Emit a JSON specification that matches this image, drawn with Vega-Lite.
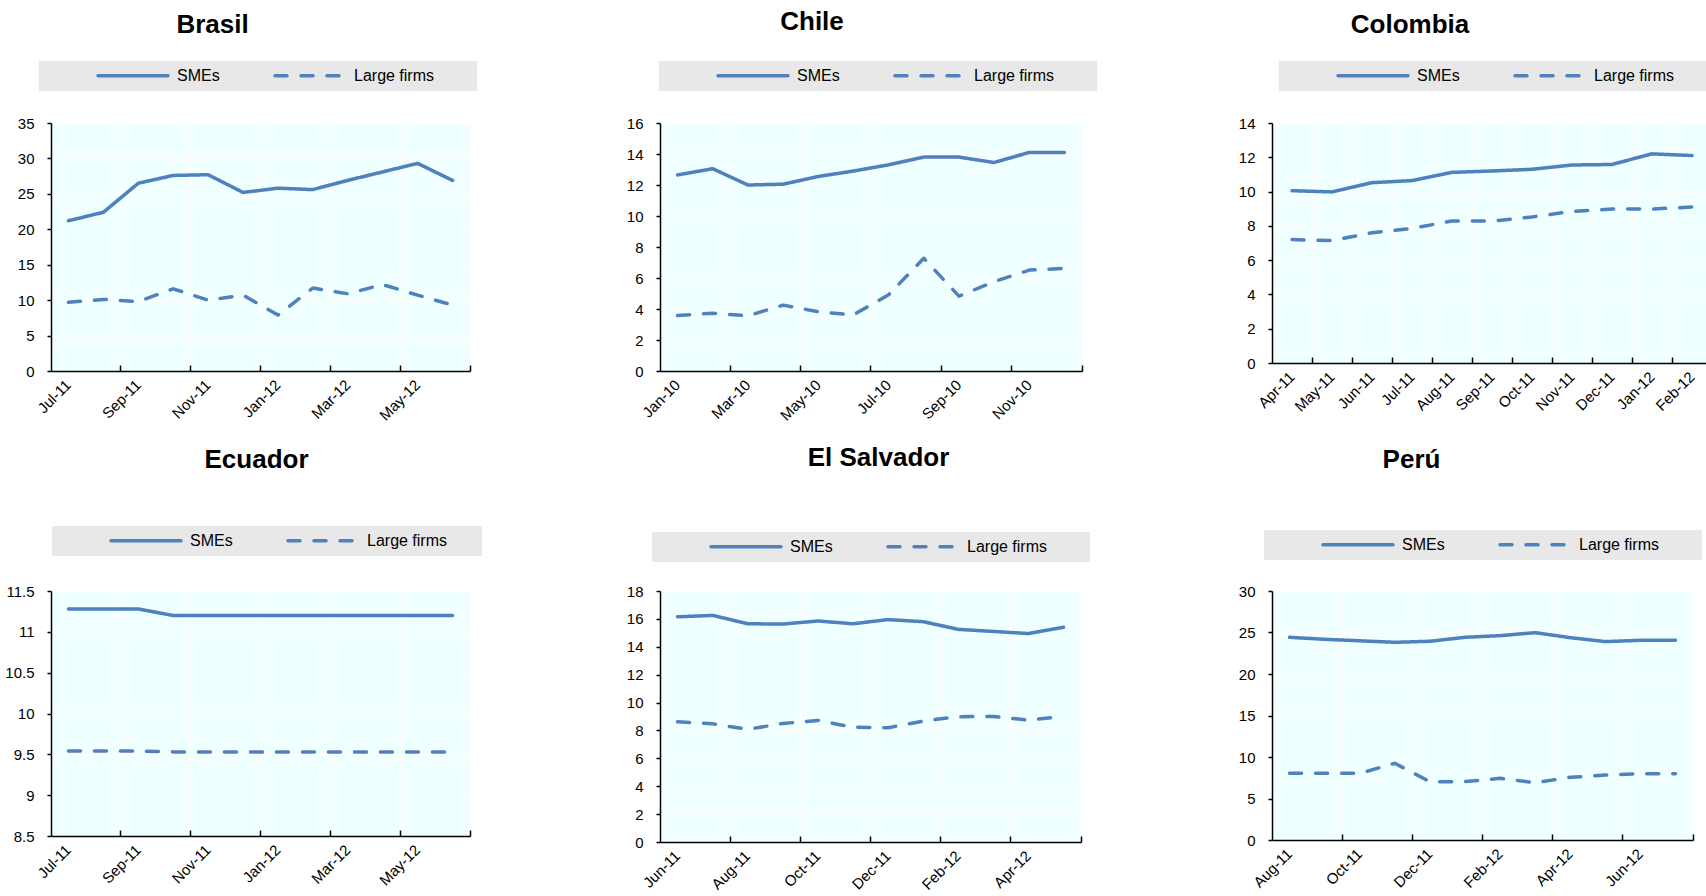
{
  "$schema": "https://vega.github.io/schema/vega-lite/v6.json",
  "autosize": {"type": "none"},
  "padding": {"left": 51, "top": 123, "right": 1655, "bottom": 773},
  "background": "white",
  "columns": 3,
  "spacing": {"row": 220, "column": 190},
  "bounds": "flush",
  "align": "none",
  "resolve": {"scale": {"strokeDash": "independent"}, "legend": {"strokeDash": "independent"}},
  "datasets": {
    "brasil": [
      {"m": "Jul-11", "s": "SMEs", "v": 21.2}, {"m": "Jul-11", "s": "Large firms", "v": 9.7},
      {"m": "Aug-11", "s": "SMEs", "v": 22.4}, {"m": "Aug-11", "s": "Large firms", "v": 10.1},
      {"m": "Sep-11", "s": "SMEs", "v": 26.5}, {"m": "Sep-11", "s": "Large firms", "v": 9.8},
      {"m": "Oct-11", "s": "SMEs", "v": 27.6}, {"m": "Oct-11", "s": "Large firms", "v": 11.6},
      {"m": "Nov-11", "s": "SMEs", "v": 27.7}, {"m": "Nov-11", "s": "Large firms", "v": 10.0},
      {"m": "Dec-11", "s": "SMEs", "v": 25.2}, {"m": "Dec-11", "s": "Large firms", "v": 10.7},
      {"m": "Jan-12", "s": "SMEs", "v": 25.8}, {"m": "Jan-12", "s": "Large firms", "v": 7.9},
      {"m": "Feb-12", "s": "SMEs", "v": 25.6}, {"m": "Feb-12", "s": "Large firms", "v": 11.7},
      {"m": "Mar-12", "s": "SMEs", "v": 26.9}, {"m": "Mar-12", "s": "Large firms", "v": 10.9},
      {"m": "Apr-12", "s": "SMEs", "v": 28.1}, {"m": "Apr-12", "s": "Large firms", "v": 12.2},
      {"m": "May-12", "s": "SMEs", "v": 29.3}, {"m": "May-12", "s": "Large firms", "v": 10.7},
      {"m": "Jun-12", "s": "SMEs", "v": 26.9}, {"m": "Jun-12", "s": "Large firms", "v": 9.3}
    ],
    "chile": [
      {"m": "Jan-10", "s": "SMEs", "v": 12.65}, {"m": "Jan-10", "s": "Large firms", "v": 3.58},
      {"m": "Feb-10", "s": "SMEs", "v": 13.05}, {"m": "Feb-10", "s": "Large firms", "v": 3.73},
      {"m": "Mar-10", "s": "SMEs", "v": 12.0}, {"m": "Mar-10", "s": "Large firms", "v": 3.56},
      {"m": "Apr-10", "s": "SMEs", "v": 12.05}, {"m": "Apr-10", "s": "Large firms", "v": 4.25},
      {"m": "May-10", "s": "SMEs", "v": 12.55}, {"m": "May-10", "s": "Large firms", "v": 3.82},
      {"m": "Jun-10", "s": "SMEs", "v": 12.9}, {"m": "Jun-10", "s": "Large firms", "v": 3.62},
      {"m": "Jul-10", "s": "SMEs", "v": 13.3}, {"m": "Jul-10", "s": "Large firms", "v": 4.92},
      {"m": "Aug-10", "s": "SMEs", "v": 13.8}, {"m": "Aug-10", "s": "Large firms", "v": 7.27},
      {"m": "Sep-10", "s": "SMEs", "v": 13.8}, {"m": "Sep-10", "s": "Large firms", "v": 4.83},
      {"m": "Oct-10", "s": "SMEs", "v": 13.45}, {"m": "Oct-10", "s": "Large firms", "v": 5.76},
      {"m": "Nov-10", "s": "SMEs", "v": 14.1}, {"m": "Nov-10", "s": "Large firms", "v": 6.51},
      {"m": "Dec-10", "s": "SMEs", "v": 14.1}, {"m": "Dec-10", "s": "Large firms", "v": 6.62}
    ],
    "colombia": [
      {"m": "Apr-11", "s": "SMEs", "v": 10.05}, {"m": "Apr-11", "s": "Large firms", "v": 7.2},
      {"m": "May-11", "s": "SMEs", "v": 9.98}, {"m": "May-11", "s": "Large firms", "v": 7.14},
      {"m": "Jun-11", "s": "SMEs", "v": 10.52}, {"m": "Jun-11", "s": "Large firms", "v": 7.6},
      {"m": "Jul-11", "s": "SMEs", "v": 10.64}, {"m": "Jul-11", "s": "Large firms", "v": 7.85},
      {"m": "Aug-11", "s": "SMEs", "v": 11.12}, {"m": "Aug-11", "s": "Large firms", "v": 8.28},
      {"m": "Sep-11", "s": "SMEs", "v": 11.2}, {"m": "Sep-11", "s": "Large firms", "v": 8.28},
      {"m": "Oct-11", "s": "SMEs", "v": 11.3}, {"m": "Oct-11", "s": "Large firms", "v": 8.52},
      {"m": "Nov-11", "s": "SMEs", "v": 11.55}, {"m": "Nov-11", "s": "Large firms", "v": 8.84},
      {"m": "Dec-11", "s": "SMEs", "v": 11.58}, {"m": "Dec-11", "s": "Large firms", "v": 8.98},
      {"m": "Jan-12", "s": "SMEs", "v": 12.2}, {"m": "Jan-12", "s": "Large firms", "v": 8.98},
      {"m": "Feb-12", "s": "SMEs", "v": 12.1}, {"m": "Feb-12", "s": "Large firms", "v": 9.1}
    ],
    "ecuador": [
      {"m": "Jul-11", "s": "SMEs", "v": 11.28}, {"m": "Jul-11", "s": "Large firms", "v": 9.54},
      {"m": "Aug-11", "s": "SMEs", "v": 11.28}, {"m": "Aug-11", "s": "Large firms", "v": 9.54},
      {"m": "Sep-11", "s": "SMEs", "v": 11.28}, {"m": "Sep-11", "s": "Large firms", "v": 9.54},
      {"m": "Oct-11", "s": "SMEs", "v": 11.2}, {"m": "Oct-11", "s": "Large firms", "v": 9.53},
      {"m": "Nov-11", "s": "SMEs", "v": 11.2}, {"m": "Nov-11", "s": "Large firms", "v": 9.53},
      {"m": "Dec-11", "s": "SMEs", "v": 11.2}, {"m": "Dec-11", "s": "Large firms", "v": 9.53},
      {"m": "Jan-12", "s": "SMEs", "v": 11.2}, {"m": "Jan-12", "s": "Large firms", "v": 9.53},
      {"m": "Feb-12", "s": "SMEs", "v": 11.2}, {"m": "Feb-12", "s": "Large firms", "v": 9.53},
      {"m": "Mar-12", "s": "SMEs", "v": 11.2}, {"m": "Mar-12", "s": "Large firms", "v": 9.53},
      {"m": "Apr-12", "s": "SMEs", "v": 11.2}, {"m": "Apr-12", "s": "Large firms", "v": 9.53},
      {"m": "May-12", "s": "SMEs", "v": 11.2}, {"m": "May-12", "s": "Large firms", "v": 9.53},
      {"m": "Jun-12", "s": "SMEs", "v": 11.2}, {"m": "Jun-12", "s": "Large firms", "v": 9.53}
    ],
    "elsalvador": [
      {"m": "Jun-11", "s": "SMEs", "v": 16.15}, {"m": "Jun-11", "s": "Large firms", "v": 8.62},
      {"m": "Jul-11", "s": "SMEs", "v": 16.25}, {"m": "Jul-11", "s": "Large firms", "v": 8.48},
      {"m": "Aug-11", "s": "SMEs", "v": 15.65}, {"m": "Aug-11", "s": "Large firms", "v": 8.08},
      {"m": "Sep-11", "s": "SMEs", "v": 15.63}, {"m": "Sep-11", "s": "Large firms", "v": 8.5},
      {"m": "Oct-11", "s": "SMEs", "v": 15.85}, {"m": "Oct-11", "s": "Large firms", "v": 8.72},
      {"m": "Nov-11", "s": "SMEs", "v": 15.65}, {"m": "Nov-11", "s": "Large firms", "v": 8.23},
      {"m": "Dec-11", "s": "SMEs", "v": 15.95}, {"m": "Dec-11", "s": "Large firms", "v": 8.19},
      {"m": "Jan-12", "s": "SMEs", "v": 15.8}, {"m": "Jan-12", "s": "Large firms", "v": 8.67},
      {"m": "Feb-12", "s": "SMEs", "v": 15.25}, {"m": "Feb-12", "s": "Large firms", "v": 8.99},
      {"m": "Mar-12", "s": "SMEs", "v": 15.1}, {"m": "Mar-12", "s": "Large firms", "v": 9.0},
      {"m": "Apr-12", "s": "SMEs", "v": 14.95}, {"m": "Apr-12", "s": "Large firms", "v": 8.74},
      {"m": "May-12", "s": "SMEs", "v": 15.4}, {"m": "May-12", "s": "Large firms", "v": 9.0}
    ],
    "peru": [
      {"m": "Aug-11", "s": "SMEs", "v": 24.42}, {"m": "Aug-11", "s": "Large firms", "v": 8.03},
      {"m": "Sep-11", "s": "SMEs", "v": 24.18}, {"m": "Sep-11", "s": "Large firms", "v": 8.03},
      {"m": "Oct-11", "s": "SMEs", "v": 24.0}, {"m": "Oct-11", "s": "Large firms", "v": 8.03},
      {"m": "Nov-11", "s": "SMEs", "v": 23.82}, {"m": "Nov-11", "s": "Large firms", "v": 9.24},
      {"m": "Dec-11", "s": "SMEs", "v": 23.94}, {"m": "Dec-11", "s": "Large firms", "v": 7.03},
      {"m": "Jan-12", "s": "SMEs", "v": 24.42}, {"m": "Jan-12", "s": "Large firms", "v": 7.03},
      {"m": "Feb-12", "s": "SMEs", "v": 24.62}, {"m": "Feb-12", "s": "Large firms", "v": 7.43},
      {"m": "Mar-12", "s": "SMEs", "v": 24.98}, {"m": "Mar-12", "s": "Large firms", "v": 6.91},
      {"m": "Apr-12", "s": "SMEs", "v": 24.38}, {"m": "Apr-12", "s": "Large firms", "v": 7.55},
      {"m": "May-12", "s": "SMEs", "v": 23.9}, {"m": "May-12", "s": "Large firms", "v": 7.83},
      {"m": "Jun-12", "s": "SMEs", "v": 24.06}, {"m": "Jun-12", "s": "Large firms", "v": 7.99},
      {"m": "Jul-12", "s": "SMEs", "v": 24.06}, {"m": "Jul-12", "s": "Large firms", "v": 7.99}
    ]
  },
  "concat": [
    {
      "width": 419, "height": 248,
      "title": {"text": "Brasil", "dx": -48, "offset": 23.5},
      "data": {"name": "brasil"},
      "layer": [
        {
          "mark": {"type": "line", "color": "#4f81bd", "strokeWidth": 3.5, "strokeCap": "round", "strokeJoin": "round"},
          "encoding": {
            "x": {"field": "m", "type": "ordinal", "sort": null, "scale": {"type": "band", "paddingInner": 0, "paddingOuter": 0},
                  "axis": {"orient": "bottom", "values": ["Jul-11", "Sep-11", "Nov-11", "Jan-12", "Mar-12", "May-12"], "ticks": false, "grid": false, "domain": true, "labelAngle": -45, "labelAlign": "right", "labelBaseline": "middle", "labelPadding": 11, "title": null}},
            "y": {"field": "v", "type": "quantitative", "scale": {"domain": [0, 35], "nice": false, "zero": false},
                  "axis": {"values": [0, 5, 10, 15, 20, 25, 30, 35], "format": "~g", "title": null, "tickSize": 4, "labelPadding": 13, "grid": true}},
            "strokeDash": {"field": "s", "type": "nominal", "scale": {"domain": ["SMEs", "Large firms"], "range": [[1, 0], [12, 14]]},
                  "legend": {"title": "\u00a0", "titleOrient": "right", "titlePadding": 36, "legendX": -12, "legendY": -62, "encode": {"symbols": {"update": {"strokeCap": {"value": "round"}}}}}}
          }
        },
        {
          "mark": {"type": "rule", "opacity": 0},
          "encoding": {
            "x": {"field": "m", "type": "ordinal", "sort": null,
                  "axis": {"orient": "bottom", "values": ["Aug-11", "Oct-11", "Dec-11", "Feb-12", "Apr-12", "Jun-12"], "bandPosition": 1, "ticks": true, "tickSize": -6, "grid": true, "labels": false, "domain": false, "title": null}}
          }
        }
      ],
      "resolve": {"axis": {"x": "independent"}}
    },
    {
      "width": 422, "height": 248,
      "title": {"text": "Chile", "dx": -59, "offset": 26.5},
      "data": {"name": "chile"},
      "layer": [
        {
          "mark": {"type": "line", "color": "#4f81bd", "strokeWidth": 3.5, "strokeCap": "round", "strokeJoin": "round"},
          "encoding": {
            "x": {"field": "m", "type": "ordinal", "sort": null, "scale": {"type": "band", "paddingInner": 0, "paddingOuter": 0},
                  "axis": {"orient": "bottom", "values": ["Jan-10", "Mar-10", "May-10", "Jul-10", "Sep-10", "Nov-10"], "ticks": false, "grid": false, "domain": true, "labelAngle": -45, "labelAlign": "right", "labelBaseline": "middle", "labelPadding": 11, "title": null}},
            "y": {"field": "v", "type": "quantitative", "scale": {"domain": [0, 16], "nice": false, "zero": false},
                  "axis": {"values": [0, 2, 4, 6, 8, 10, 12, 14, 16], "format": "~g", "title": null, "tickSize": 4, "labelPadding": 13, "grid": true}},
            "strokeDash": {"field": "s", "type": "nominal", "scale": {"domain": ["SMEs", "Large firms"], "range": [[1, 0], [12, 14]]},
                  "legend": {"title": "\u00a0", "titleOrient": "right", "titlePadding": 36, "legendX": -1, "legendY": -62, "encode": {"symbols": {"update": {"strokeCap": {"value": "round"}}}}}}
          }
        },
        {
          "mark": {"type": "rule", "opacity": 0},
          "encoding": {
            "x": {"field": "m", "type": "ordinal", "sort": null,
                  "axis": {"orient": "bottom", "values": ["Feb-10", "Apr-10", "Jun-10", "Aug-10", "Oct-10", "Dec-10"], "bandPosition": 1, "ticks": true, "tickSize": -6, "grid": true, "labels": false, "domain": false, "title": null}}
          }
        }
      ],
      "resolve": {"axis": {"x": "independent"}}
    },
    {
      "width": 440, "height": 240,
      "title": {"text": "Colombia", "dx": -82, "offset": 23.5},
      "data": {"name": "colombia"},
      "layer": [
        {
          "mark": {"type": "line", "color": "#4f81bd", "strokeWidth": 3.5, "strokeCap": "round", "strokeJoin": "round"},
          "encoding": {
            "x": {"field": "m", "type": "ordinal", "sort": null, "scale": {"type": "band", "paddingInner": 0, "paddingOuter": 0},
                  "axis": {"orient": "bottom", "ticks": false, "grid": false, "domain": true, "labelAngle": -45, "labelAlign": "right", "labelBaseline": "middle", "labelPadding": 11, "title": null}},
            "y": {"field": "v", "type": "quantitative", "scale": {"domain": [0, 14], "nice": false, "zero": false},
                  "axis": {"values": [0, 2, 4, 6, 8, 10, 12, 14], "format": "~g", "title": null, "tickSize": 4, "labelPadding": 13, "grid": true}},
            "strokeDash": {"field": "s", "type": "nominal", "scale": {"domain": ["SMEs", "Large firms"], "range": [[1, 0], [12, 14]]},
                  "legend": {"title": "\u00a0", "titleOrient": "right", "titlePadding": 36, "legendX": 7, "legendY": -62, "encode": {"symbols": {"update": {"strokeCap": {"value": "round"}}}}}}
          }
        },
        {
          "mark": {"type": "rule", "opacity": 0},
          "encoding": {
            "x": {"field": "m", "type": "ordinal", "sort": null,
                  "axis": {"orient": "bottom", "bandPosition": 1, "ticks": true, "tickSize": -6, "grid": true, "labels": false, "domain": false, "title": null}}
          }
        }
      ],
      "resolve": {"axis": {"x": "independent"}}
    },
    {
      "width": 419, "height": 245,
      "title": {"text": "Ecuador", "dx": -4, "offset": 53.5},
      "data": {"name": "ecuador"},
      "layer": [
        {
          "mark": {"type": "line", "color": "#4f81bd", "strokeWidth": 3.5, "strokeCap": "round", "strokeJoin": "round"},
          "encoding": {
            "x": {"field": "m", "type": "ordinal", "sort": null, "scale": {"type": "band", "paddingInner": 0, "paddingOuter": 0},
                  "axis": {"orient": "bottom", "values": ["Jul-11", "Sep-11", "Nov-11", "Jan-12", "Mar-12", "May-12"], "ticks": false, "grid": false, "domain": true, "labelAngle": -45, "labelAlign": "right", "labelBaseline": "middle", "labelPadding": 11, "title": null}},
            "y": {"field": "v", "type": "quantitative", "scale": {"domain": [8.5, 11.5], "nice": false, "zero": false},
                  "axis": {"values": [8.5, 9, 9.5, 10, 10.5, 11, 11.5], "format": "~g", "title": null, "tickSize": 4, "labelPadding": 13, "grid": true}},
            "strokeDash": {"field": "s", "type": "nominal", "scale": {"domain": ["SMEs", "Large firms"], "range": [[1, 0], [12, 14]]},
                  "legend": {"title": "\u00a0", "titleOrient": "right", "titlePadding": 28, "legendX": 1, "legendY": -65, "encode": {"symbols": {"update": {"strokeCap": {"value": "round"}}}}}}
          }
        },
        {
          "mark": {"type": "rule", "opacity": 0},
          "encoding": {
            "x": {"field": "m", "type": "ordinal", "sort": null,
                  "axis": {"orient": "bottom", "values": ["Aug-11", "Oct-11", "Dec-11", "Feb-12", "Apr-12", "Jun-12"], "bandPosition": 1, "ticks": true, "tickSize": -6, "grid": true, "labels": false, "domain": false, "title": null}}
          }
        }
      ],
      "resolve": {"axis": {"x": "independent"}}
    },
    {
      "width": 421, "height": 251,
      "title": {"text": "El Salvador", "dx": 8, "offset": 61.5},
      "data": {"name": "elsalvador"},
      "layer": [
        {
          "mark": {"type": "line", "color": "#4f81bd", "strokeWidth": 3.5, "strokeCap": "round", "strokeJoin": "round"},
          "encoding": {
            "x": {"field": "m", "type": "ordinal", "sort": null, "scale": {"type": "band", "paddingInner": 0, "paddingOuter": 0},
                  "axis": {"orient": "bottom", "values": ["Jun-11", "Aug-11", "Oct-11", "Dec-11", "Feb-12", "Apr-12"], "ticks": false, "grid": false, "domain": true, "labelAngle": -45, "labelAlign": "right", "labelBaseline": "middle", "labelPadding": 11, "title": null}},
            "y": {"field": "v", "type": "quantitative", "scale": {"domain": [0, 18], "nice": false, "zero": false},
                  "axis": {"values": [0, 2, 4, 6, 8, 10, 12, 14, 16, 18], "format": "~g", "title": null, "tickSize": 4, "labelPadding": 13, "grid": true}},
            "strokeDash": {"field": "s", "type": "nominal", "scale": {"domain": ["SMEs", "Large firms"], "range": [[1, 0], [12, 14]]},
                  "legend": {"title": "\u00a0", "titleOrient": "right", "titlePadding": 36, "legendX": -8, "legendY": -59, "encode": {"symbols": {"update": {"strokeCap": {"value": "round"}}}}}}
          }
        },
        {
          "mark": {"type": "rule", "opacity": 0},
          "encoding": {
            "x": {"field": "m", "type": "ordinal", "sort": null,
                  "axis": {"orient": "bottom", "values": ["Jul-11", "Sep-11", "Nov-11", "Jan-12", "Mar-12", "May-12"], "bandPosition": 1, "ticks": true, "tickSize": -6, "grid": true, "labels": false, "domain": false, "title": null}}
          }
        }
      ],
      "resolve": {"axis": {"x": "independent"}}
    },
    {
      "width": 421, "height": 249,
      "title": {"text": "Perú", "dx": -71, "offset": 57.5},
      "data": {"name": "peru"},
      "layer": [
        {
          "mark": {"type": "line", "color": "#4f81bd", "strokeWidth": 3.5, "strokeCap": "round", "strokeJoin": "round"},
          "encoding": {
            "x": {"field": "m", "type": "ordinal", "sort": null, "scale": {"type": "band", "paddingInner": 0, "paddingOuter": 0},
                  "axis": {"orient": "bottom", "values": ["Aug-11", "Oct-11", "Dec-11", "Feb-12", "Apr-12", "Jun-12"], "ticks": false, "grid": false, "domain": true, "labelAngle": -45, "labelAlign": "right", "labelBaseline": "middle", "labelPadding": 11, "title": null}},
            "y": {"field": "v", "type": "quantitative", "scale": {"domain": [0, 30], "nice": false, "zero": false},
                  "axis": {"values": [0, 5, 10, 15, 20, 25, 30], "format": "~g", "title": null, "tickSize": 4, "labelPadding": 13, "grid": true}},
            "strokeDash": {"field": "s", "type": "nominal", "scale": {"domain": ["SMEs", "Large firms"], "range": [[1, 0], [12, 14]]},
                  "legend": {"title": "\u00a0", "titleOrient": "right", "titlePadding": 36, "legendX": -8, "legendY": -61, "encode": {"symbols": {"update": {"strokeCap": {"value": "round"}}}}}}
          }
        },
        {
          "mark": {"type": "rule", "opacity": 0},
          "encoding": {
            "x": {"field": "m", "type": "ordinal", "sort": null,
                  "axis": {"orient": "bottom", "values": ["Sep-11", "Nov-11", "Jan-12", "Mar-12", "May-12", "Jul-12"], "bandPosition": 1, "ticks": true, "tickSize": -6, "grid": true, "labels": false, "domain": false, "title": null}}
          }
        }
      ],
      "resolve": {"axis": {"x": "independent"}}
    }
  ],
  "config": {
    "font": "Liberation Sans",
    "view": {"fill": "#f0ffff", "stroke": null},
    "axis": {"labelFont": "Liberation Sans", "labelFontSize": 15, "labelColor": "#000000", "domainColor": "#000000", "domainWidth": 1.5, "tickColor": "#000000", "tickWidth": 1.5, "gridColor": "#ffffff", "gridWidth": 1, "gridOpacity": 1},
    "title": {"font": "Liberation Sans", "fontSize": 26, "fontWeight": "bold", "color": "#000000", "anchor": "middle", "baseline": "alphabetic"},
    "legend": {"orient": "none", "direction": "horizontal", "fillColor": "#e8e8e8", "padding": 7, "symbolType": "stroke", "symbolSize": 4900, "symbolStrokeWidth": 3.5, "symbolStrokeColor": "#4f81bd", "symbolOffset": 50, "labelOffset": 7, "columnPadding": 3, "clipHeight": 15, "labelFont": "Liberation Sans", "labelFontSize": 16, "labelColor": "#000000", "titleFontSize": 16}
  }
}
